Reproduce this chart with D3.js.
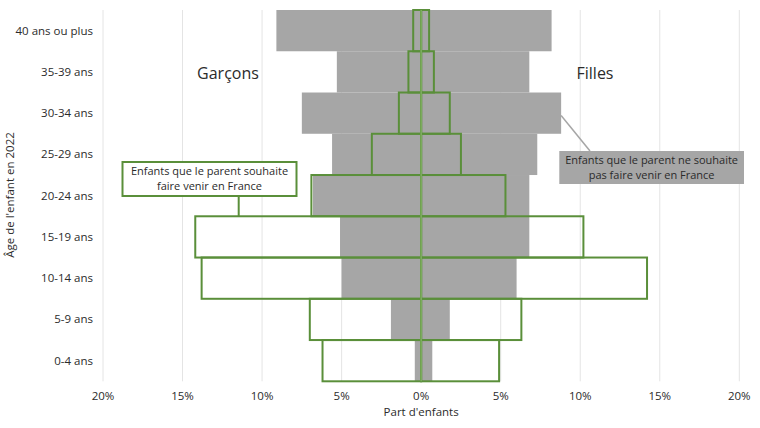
<!DOCTYPE html>
<html>
<head>
<meta charset="utf-8">
<script src="https://cdn.jsdelivr.net/npm/d3@7"></script>
<style>
  body { margin: 0; background: #fff; }
  svg { display: block; font-family: "Open Sans", sans-serif; }
  text { fill: #2b2b2b; }
</style>
</head>
<body>
<svg id="chart" width="760" height="428"></svg>
<script>
// Âge de l'enfant (du haut vers le bas)
const ages = ['40 ans ou plus', '35-39 ans', '30-34 ans', '25-29 ans', '20-24 ans',
  '15-19 ans', '10-14 ans', '5-9 ans', '0-4 ans'];
// Enfants que le parent ne souhaite pas faire venir (gris), en %
const nonGarcons = [9.1, 5.3, 7.5, 5.6, 6.8, 5.1, 5.0, 1.9, 0.4];
const nonFilles = [8.2, 6.8, 8.8, 7.3, 6.8, 6.8, 6.0, 1.8, 0.7];
// Enfants que le parent souhaite faire venir (contour vert), en %
const souhGarcons = [0.5, 0.8, 1.4, 3.1, 6.9, 14.2, 13.8, 7.0, 6.2];
const souhFilles = [0.5, 0.8, 1.8, 2.5, 5.3, 10.2, 14.2, 6.3, 4.9];
const xTicks = [-20, -15, -10, -5, 0, 5, 10, 15, 20];

const green = '#5a8f3a';
const gray = '#a6a6a6';

const svg = d3.select('#chart');

const x = d3.scaleLinear().domain([-20, 20]).range([103, 739.3]);
const y = d3.scaleBand().domain(ages).range([10, 381.3]).padding(0);

// gridlines
svg.append('g')
  .selectAll('line')
  .data(xTicks)
  .join('line')
  .attr('x1', d => x(d)).attr('x2', d => x(d))
  .attr('y1', 10).attr('y2', 381.3)
  .attr('stroke', '#e4e4e4')
  .attr('stroke-width', 1);

// gray bars
const grayG = svg.append('g');
ages.forEach((a, i) => {
  grayG.append('rect')
    .attr('x', x(-nonGarcons[i]))
    .attr('y', y(a))
    .attr('width', x(0) - x(-nonGarcons[i]))
    .attr('height', y.bandwidth())
    .attr('fill', gray);
  grayG.append('rect')
    .attr('x', x(0))
    .attr('y', y(a))
    .attr('width', x(nonFilles[i]) - x(0))
    .attr('height', y.bandwidth())
    .attr('fill', gray);
});

// green outlined bars
const greenG = svg.append('g');
ages.forEach((a, i) => {
  greenG.append('rect')
    .attr('x', x(-souhGarcons[i]))
    .attr('y', y(a))
    .attr('width', x(0) - x(-souhGarcons[i]))
    .attr('height', y.bandwidth())
    .attr('fill', 'none')
    .attr('stroke', green)
    .attr('stroke-width', 2);
  greenG.append('rect')
    .attr('x', x(0))
    .attr('y', y(a))
    .attr('width', x(souhFilles[i]) - x(0))
    .attr('height', y.bandwidth())
    .attr('fill', 'none')
    .attr('stroke', green)
    .attr('stroke-width', 2);
});

// central axis
svg.append('line')
  .attr('x1', x(0)).attr('x2', x(0))
  .attr('y1', 10).attr('y2', 381.3)
  .attr('stroke', '#7fae62')
  .attr('stroke-width', 1.5);

// y labels
svg.append('g')
  .selectAll('text')
  .data(ages)
  .join('text')
  .attr('x', 93)
  .attr('y', d => y(d) + y.bandwidth() / 2)
  .attr('dy', '0.35em')
  .attr('text-anchor', 'end')
  .attr('font-size', 11.5)
  .text(d => d);

// x tick labels
svg.append('g')
  .selectAll('text')
  .data(xTicks)
  .join('text')
  .attr('x', d => x(d))
  .attr('y', 400)
  .attr('text-anchor', 'middle')
  .attr('font-size', 11.5)
  .text(d => Math.abs(d) + '%');

svg.append('text')
  .attr('x', x(0))
  .attr('y', 416)
  .attr('text-anchor', 'middle')
  .attr('font-size', 11.5)
  .text("Part d'enfants");

svg.append('text')
  .attr('transform', 'translate(14,195) rotate(-90)')
  .attr('text-anchor', 'middle')
  .attr('font-size', 11.5)
  .text("Âge de l'enfant en 2022");

// sex labels
svg.append('text')
  .attr('x', 228).attr('y', 79)
  .attr('text-anchor', 'middle')
  .attr('font-size', 16)
  .text('Garçons');
svg.append('text')
  .attr('x', 595).attr('y', 79)
  .attr('text-anchor', 'middle')
  .attr('font-size', 16)
  .text('Filles');

// left annotation
svg.append('line')
  .attr('x1', 238.7).attr('x2', 238.7)
  .attr('y1', 196).attr('y2', y('15-19 ans'))
  .attr('stroke', green).attr('stroke-width', 2);
svg.append('rect')
  .attr('x', 122.5).attr('y', 162)
  .attr('width', 174).attr('height', 34)
  .attr('fill', '#fff')
  .attr('stroke', green).attr('stroke-width', 2);
const lt = svg.append('text')
  .attr('text-anchor', 'middle')
  .attr('font-size', 11);
lt.append('tspan').attr('x', 209.5).attr('y', 174.6).text('Enfants que le parent souhaite');
lt.append('tspan').attr('x', 209.5).attr('y', 189.8).text('faire venir en France');

// right annotation
svg.append('line')
  .attr('x1', 590).attr('y1', 151)
  .attr('x2', x(nonFilles[2])).attr('y2', y('30-34 ans') + 23)
  .attr('stroke', gray).attr('stroke-width', 1.5);
svg.append('rect')
  .attr('x', 559.3).attr('y', 151)
  .attr('width', 184.7).attr('height', 33)
  .attr('fill', gray);
const rt = svg.append('text')
  .attr('text-anchor', 'middle')
  .attr('font-size', 11);
rt.append('tspan').attr('x', 651.6).attr('y', 164.2).text('Enfants que le parent ne souhaite');
rt.append('tspan').attr('x', 651.6).attr('y', 179.4).text('pas faire venir en France');
</script>
</body>
</html>
